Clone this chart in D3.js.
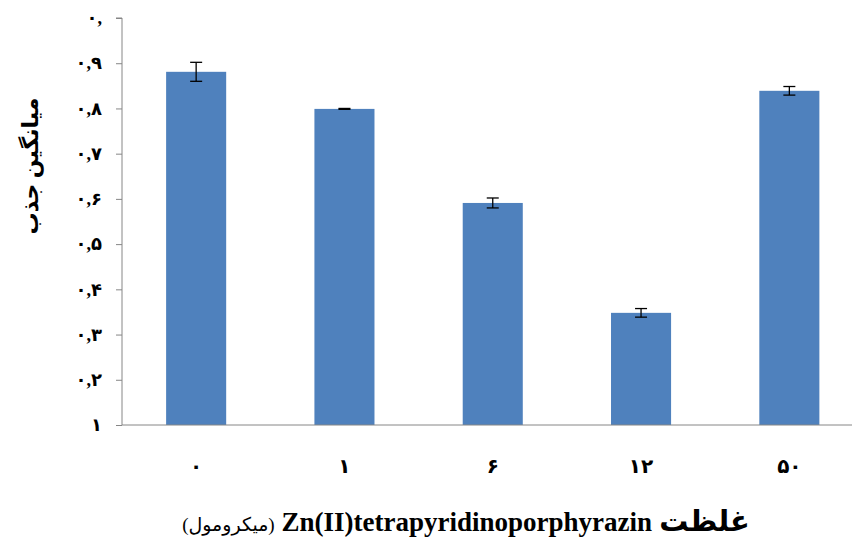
<!DOCTYPE html>
<html>
<head>
<meta charset="utf-8">
<script src="https://d3js.org/d3.v7.min.js"></script>
<style>
  body { margin: 0; background: #fff; }
  svg text { font-family: "Liberation Serif", "DejaVu Sans", serif; fill: #000; }
</style>
</head>
<body>
<script>
// concentrations (x categories) and mean absorbance with error
var categories = ["۰", "۱", "۶", "۱۲", "۵۰"];
var means = [0.881, 0.799, 0.591, 0.348, 0.839];
var errors = [0.021, 0.001, 0.011, 0.0095, 0.0095];
var yTicks = [0.1, 0.2, 0.3, 0.4, 0.5, 0.6, 0.7, 0.8, 0.9, 1.0];
var yTickLabels = ["۱", "۰,۲", "۰,۳", "۰,۴", "۰,۵", "۰,۶", "۰,۷", "۰,۸", "۰,۹", "۰,"];

var width = 852, height = 540;
var plotLeft = 122, plotBottom = 425, plotTop = 18;

var svg = d3.select("body").append("svg")
  .attr("width", width)
  .attr("height", height);

var x = d3.scaleBand()
  .domain(categories)
  .range([plotLeft, plotLeft + 5 * 148.3])
  .paddingInner(0.595)
  .paddingOuter(0.2975);

var y = d3.scaleLinear()
  .domain([0.1, 1])
  .range([plotBottom, plotTop]);

// bars
svg.selectAll("rect.bar")
  .data(means)
  .enter().append("rect")
  .attr("class", "bar")
  .attr("x", function(d, i) { return x(categories[i]); })
  .attr("y", function(d) { return y(d); })
  .attr("width", x.bandwidth())
  .attr("height", function(d) { return plotBottom - y(d); })
  .attr("fill", "#4F81BD");

// error bars
var eb = svg.selectAll("g.err")
  .data(means)
  .enter().append("g")
  .attr("class", "err")
  .attr("stroke", "#000")
  .attr("stroke-width", 1.3);
eb.append("line")
  .attr("x1", function(d, i) { return x(categories[i]) + x.bandwidth() / 2; })
  .attr("x2", function(d, i) { return x(categories[i]) + x.bandwidth() / 2; })
  .attr("y1", function(d, i) { return y(d + errors[i]); })
  .attr("y2", function(d, i) { return y(d - errors[i]); });
[1, -1].forEach(function(s) {
  eb.append("line")
    .attr("x1", function(d, i) { return x(categories[i]) + x.bandwidth() / 2 - 6; })
    .attr("x2", function(d, i) { return x(categories[i]) + x.bandwidth() / 2 + 6; })
    .attr("y1", function(d, i) { return y(d + s * errors[i]); })
    .attr("y2", function(d, i) { return y(d + s * errors[i]); });
});

// y axis
var yAxis = d3.axisLeft(y)
  .tickValues(yTicks)
  .tickSize(6)
  .tickPadding(14)
  .tickFormat(function(d, i) { return yTickLabels[i]; });
var gy = svg.append("g")
  .attr("transform", "translate(" + plotLeft + ",0)")
  .call(yAxis);
gy.select(".domain").attr("stroke", "#868686").attr("d", "M-6," + plotTop + "H0V" + plotBottom);
gy.selectAll(".tick line").attr("stroke", "#868686");
gy.selectAll(".tick text")
  .style("font-size", "18px")
  .style("font-weight", "bold");

// x axis
var xAxis = d3.axisBottom(x).tickSize(0).tickPadding(34);
var gx = svg.append("g")
  .attr("transform", "translate(0," + plotBottom + ")")
  .call(xAxis);
gx.select(".domain").attr("stroke", "#868686").attr("d", "M" + plotLeft + ",0H" + width);
gx.selectAll(".tick text")
  .style("font-size", "20px")
  .style("font-weight", "bold");

// y title
svg.append("text")
  .attr("transform", "translate(38,166) rotate(-90)")
  .attr("text-anchor", "middle")
  .attr("direction", "rtl")
  .style("font-size", "22px")
  .style("font-weight", "bold")
  .text("میانگین جذب");

// x title
var xt = svg.append("text")
  .attr("x", 466)
  .attr("y", 531)
  .attr("text-anchor", "middle")
  .attr("direction", "rtl")
  .style("font-size", "27px");
xt.append("tspan").style("font-weight", "bold").style("font-size", "29px").text("غلظت ");
xt.append("tspan").style("font-weight", "bold").text("Zn(II)tetrapyridinoporphyrazin ");
xt.append("tspan").style("font-size", "19px").text("(میکرومول)");
</script>
</body>
</html>
